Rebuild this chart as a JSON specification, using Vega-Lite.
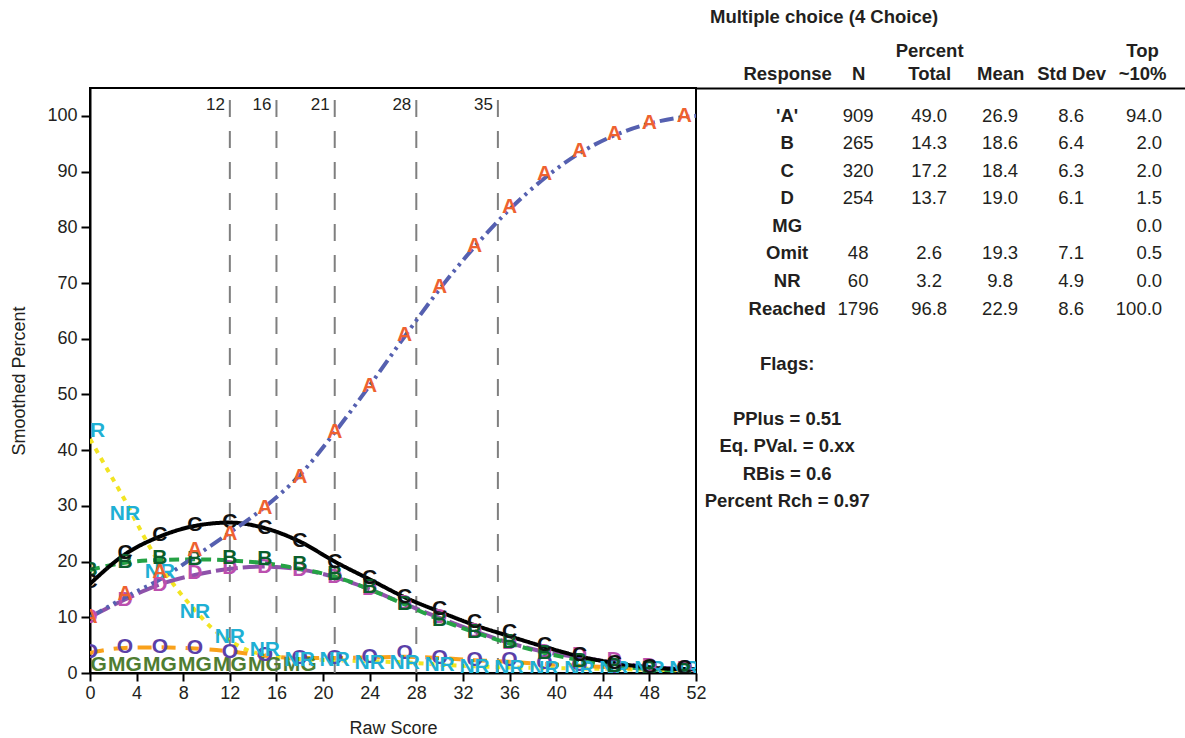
{
  "$schema": "https://vega.github.io/schema/vega-lite/v6.json",
  "background": "white",
  "padding": {"left": 9, "top": 7, "right": 0, "bottom": 0},
  "autosize": {"type": "pad"},
  "bounds": "flush",
  "spacing": 0,
  "config": {
    "font": "Liberation Sans",
    "view": {"stroke": "#000000", "strokeWidth": 2},
    "axis": {"domainColor": "#000000", "domainWidth": 2, "tickColor": "#000000", "tickWidth": 2, "labelColor": "#231f20", "titleColor": "#231f20", "grid": false},
    "title": {"font": "Liberation Sans"}
  },
  "datasets": {
    "cuts": [
      {"score": 12, "label": "12"}, {"score": 16, "label": "16"}, {"score": 21, "label": "21"}, {"score": 28, "label": "28"}, {"score": 35, "label": "35"}
    ],
    "curves": [
      {"series": "NR", "score": 0, "value": 42}, {"series": "NR", "score": 1.5, "value": 36.5}, {"series": "NR", "score": 3, "value": 31}, {"series": "NR", "score": 4.5, "value": 25}, {"series": "NR", "score": 6, "value": 19.5}, {"series": "NR", "score": 7.5, "value": 15}, {"series": "NR", "score": 9, "value": 11.3}, {"series": "NR", "score": 10.5, "value": 8}, {"series": "NR", "score": 12, "value": 5.8}, {"series": "NR", "score": 13.5, "value": 4.1}, {"series": "NR", "score": 15, "value": 3.3}, {"series": "NR", "score": 18, "value": 2.5}, {"series": "NR", "score": 21, "value": 2.3}, {"series": "NR", "score": 24, "value": 2.1}, {"series": "NR", "score": 27, "value": 1.9}, {"series": "NR", "score": 30, "value": 1.5}, {"series": "NR", "score": 33, "value": 1.2}, {"series": "NR", "score": 36, "value": 1.0}, {"series": "NR", "score": 39, "value": 0.9}, {"series": "NR", "score": 42, "value": 0.8}, {"series": "NR", "score": 45, "value": 0.7}, {"series": "NR", "score": 48, "value": 0.6}, {"series": "NR", "score": 51, "value": 0.5}, {"series": "NR", "score": 52, "value": 0.5},
      {"series": "O", "score": 0, "value": 3.6}, {"series": "O", "score": 3, "value": 4.5}, {"series": "O", "score": 6, "value": 4.6}, {"series": "O", "score": 9, "value": 4.4}, {"series": "O", "score": 12, "value": 3.9}, {"series": "O", "score": 15, "value": 3.1}, {"series": "O", "score": 18, "value": 2.7}, {"series": "O", "score": 21, "value": 2.7}, {"series": "O", "score": 24, "value": 2.8}, {"series": "O", "score": 27, "value": 2.9}, {"series": "O", "score": 30, "value": 2.7}, {"series": "O", "score": 33, "value": 2.3}, {"series": "O", "score": 36, "value": 2.0}, {"series": "O", "score": 39, "value": 1.6}, {"series": "O", "score": 42, "value": 1.3}, {"series": "O", "score": 45, "value": 1.0}, {"series": "O", "score": 48, "value": 0.8}, {"series": "O", "score": 51, "value": 0.6}, {"series": "O", "score": 52, "value": 0.6},
      {"series": "D", "score": 0, "value": 10}, {"series": "D", "score": 3, "value": 13.2}, {"series": "D", "score": 6, "value": 15.9}, {"series": "D", "score": 9, "value": 17.6}, {"series": "D", "score": 12, "value": 18.7}, {"series": "D", "score": 15, "value": 19.1}, {"series": "D", "score": 18, "value": 18.6}, {"series": "D", "score": 21, "value": 17.2}, {"series": "D", "score": 24, "value": 15}, {"series": "D", "score": 27, "value": 12.4}, {"series": "D", "score": 30, "value": 9.9}, {"series": "D", "score": 33, "value": 7.5}, {"series": "D", "score": 36, "value": 5.4}, {"series": "D", "score": 39, "value": 3.8}, {"series": "D", "score": 42, "value": 2.8}, {"series": "D", "score": 45, "value": 1.9}, {"series": "D", "score": 48, "value": 1.1}, {"series": "D", "score": 51, "value": 0.7}, {"series": "D", "score": 52, "value": 0.6},
      {"series": "B", "score": 0, "value": 18.5}, {"series": "B", "score": 3, "value": 19.8}, {"series": "B", "score": 6, "value": 20.3}, {"series": "B", "score": 9, "value": 20.4}, {"series": "B", "score": 12, "value": 20.2}, {"series": "B", "score": 15, "value": 19.7}, {"series": "B", "score": 18, "value": 18.7}, {"series": "B", "score": 21, "value": 17.3}, {"series": "B", "score": 24, "value": 15}, {"series": "B", "score": 27, "value": 12.3}, {"series": "B", "score": 30, "value": 9.6}, {"series": "B", "score": 33, "value": 7.3}, {"series": "B", "score": 36, "value": 5.3}, {"series": "B", "score": 39, "value": 3.6}, {"series": "B", "score": 42, "value": 2.3}, {"series": "B", "score": 45, "value": 1.3}, {"series": "B", "score": 48, "value": 0.7}, {"series": "B", "score": 51, "value": 0.4}, {"series": "B", "score": 52, "value": 0.4},
      {"series": "C", "score": 0, "value": 16}, {"series": "C", "score": 3, "value": 21.3}, {"series": "C", "score": 6, "value": 24.5}, {"series": "C", "score": 9, "value": 26.4}, {"series": "C", "score": 12, "value": 27}, {"series": "C", "score": 15, "value": 26}, {"series": "C", "score": 18, "value": 23.6}, {"series": "C", "score": 21, "value": 20}, {"series": "C", "score": 24, "value": 16.8}, {"series": "C", "score": 27, "value": 13.6}, {"series": "C", "score": 30, "value": 11}, {"series": "C", "score": 33, "value": 8.6}, {"series": "C", "score": 36, "value": 6.6}, {"series": "C", "score": 39, "value": 4.7}, {"series": "C", "score": 42, "value": 3}, {"series": "C", "score": 45, "value": 1.8}, {"series": "C", "score": 48, "value": 1}, {"series": "C", "score": 51, "value": 0.7}, {"series": "C", "score": 52, "value": 0.7},
      {"series": "A", "score": 0, "value": 10}, {"series": "A", "score": 3, "value": 13.6}, {"series": "A", "score": 6, "value": 16.8}, {"series": "A", "score": 9, "value": 20.9}, {"series": "A", "score": 12, "value": 25.2}, {"series": "A", "score": 15, "value": 29.8}, {"series": "A", "score": 18, "value": 35.5}, {"series": "A", "score": 21, "value": 43.2}, {"series": "A", "score": 24, "value": 51.6}, {"series": "A", "score": 27, "value": 60.4}, {"series": "A", "score": 30, "value": 68.9}, {"series": "A", "score": 33, "value": 76.5}, {"series": "A", "score": 36, "value": 83.2}, {"series": "A", "score": 39, "value": 88.8}, {"series": "A", "score": 42, "value": 93.3}, {"series": "A", "score": 45, "value": 96.5}, {"series": "A", "score": 48, "value": 98.6}, {"series": "A", "score": 51, "value": 99.8}, {"series": "A", "score": 52, "value": 100}
    ],
    "markers": [
      {"series": "MG", "score": 0, "value": 1.4}, {"series": "MG", "score": 3, "value": 1.4}, {"series": "MG", "score": 6, "value": 1.4}, {"series": "MG", "score": 9, "value": 1.4}, {"series": "MG", "score": 12, "value": 1.4}, {"series": "MG", "score": 15, "value": 1.4}, {"series": "MG", "score": 18, "value": 1.4},
      {"series": "O", "score": 0, "value": 3.8}, {"series": "O", "score": 3, "value": 4.7}, {"series": "O", "score": 6, "value": 4.7}, {"series": "O", "score": 9, "value": 4.5}, {"series": "O", "score": 12, "value": 3.8}, {"series": "O", "score": 15, "value": 3.2}, {"series": "O", "score": 18, "value": 2.7}, {"series": "O", "score": 21, "value": 2.7}, {"series": "O", "score": 24, "value": 2.9}, {"series": "O", "score": 27, "value": 3.6}, {"series": "O", "score": 30, "value": 2.7}, {"series": "O", "score": 33, "value": 2.3}, {"series": "O", "score": 36, "value": 2.3}, {"series": "O", "score": 39, "value": 1.8}, {"series": "O", "score": 42, "value": 1.4}, {"series": "O", "score": 45, "value": 1.1}, {"series": "O", "score": 48, "value": 1.1}, {"series": "O", "score": 51, "value": 0.9},
      {"series": "NR", "score": 0, "value": 43.5}, {"series": "NR", "score": 3, "value": 28.6}, {"series": "NR", "score": 6, "value": 18.1}, {"series": "NR", "score": 9, "value": 10.9}, {"series": "NR", "score": 12, "value": 6.5}, {"series": "NR", "score": 15, "value": 4.1}, {"series": "NR", "score": 18, "value": 2.3}, {"series": "NR", "score": 21, "value": 2.3}, {"series": "NR", "score": 24, "value": 1.8}, {"series": "NR", "score": 27, "value": 1.8}, {"series": "NR", "score": 30, "value": 1.4}, {"series": "NR", "score": 33, "value": 1.1}, {"series": "NR", "score": 36, "value": 0.9}, {"series": "NR", "score": 39, "value": 0.8}, {"series": "NR", "score": 42, "value": 0.8}, {"series": "NR", "score": 45, "value": 0.8}, {"series": "NR", "score": 48, "value": 0.8}, {"series": "NR", "score": 51, "value": 0.8},
      {"series": "D", "score": 0, "value": 10}, {"series": "D", "score": 3, "value": 13.1}, {"series": "D", "score": 6, "value": 15.8}, {"series": "D", "score": 9, "value": 17.9}, {"series": "D", "score": 12, "value": 18.8}, {"series": "D", "score": 15, "value": 19}, {"series": "D", "score": 18, "value": 18.5}, {"series": "D", "score": 21, "value": 17.2}, {"series": "D", "score": 24, "value": 15}, {"series": "D", "score": 27, "value": 12.5}, {"series": "D", "score": 30, "value": 10}, {"series": "D", "score": 33, "value": 7.5}, {"series": "D", "score": 36, "value": 5.4}, {"series": "D", "score": 39, "value": 3.8}, {"series": "D", "score": 42, "value": 3.2}, {"series": "D", "score": 45, "value": 2.3}, {"series": "D", "score": 48, "value": 1.2}, {"series": "D", "score": 51, "value": 0.8},
      {"series": "B", "score": 0, "value": 18.5}, {"series": "B", "score": 3, "value": 19.9}, {"series": "B", "score": 6, "value": 20.6}, {"series": "B", "score": 9, "value": 20.5}, {"series": "B", "score": 12, "value": 20.7}, {"series": "B", "score": 15, "value": 20.4}, {"series": "B", "score": 18, "value": 19.5}, {"series": "B", "score": 21, "value": 17.8}, {"series": "B", "score": 24, "value": 15.4}, {"series": "B", "score": 27, "value": 12.4}, {"series": "B", "score": 30, "value": 9.6}, {"series": "B", "score": 33, "value": 7.4}, {"series": "B", "score": 36, "value": 5.5}, {"series": "B", "score": 39, "value": 3.6}, {"series": "B", "score": 42, "value": 2.2}, {"series": "B", "score": 45, "value": 1.2}, {"series": "B", "score": 48, "value": 0.7}, {"series": "B", "score": 51, "value": 0.4},
      {"series": "C", "score": 0, "value": 16.3}, {"series": "C", "score": 3, "value": 21.5}, {"series": "C", "score": 6, "value": 24.7}, {"series": "C", "score": 9, "value": 26.5}, {"series": "C", "score": 12, "value": 27.1}, {"series": "C", "score": 15, "value": 26}, {"series": "C", "score": 18, "value": 23.7}, {"series": "C", "score": 21, "value": 19.9}, {"series": "C", "score": 24, "value": 17}, {"series": "C", "score": 27, "value": 13.6}, {"series": "C", "score": 30, "value": 11.5}, {"series": "C", "score": 33, "value": 9.1}, {"series": "C", "score": 36, "value": 7.3}, {"series": "C", "score": 39, "value": 5}, {"series": "C", "score": 42, "value": 3.2}, {"series": "C", "score": 45, "value": 1.8}, {"series": "C", "score": 48, "value": 1.1}, {"series": "C", "score": 51, "value": 0.9},
      {"series": "A", "score": 0, "value": 10}, {"series": "A", "score": 3, "value": 14.2}, {"series": "A", "score": 6, "value": 18.1}, {"series": "A", "score": 9, "value": 22}, {"series": "A", "score": 12, "value": 25}, {"series": "A", "score": 15, "value": 29.6}, {"series": "A", "score": 18, "value": 35.1}, {"series": "A", "score": 21, "value": 43.2}, {"series": "A", "score": 24, "value": 51.6}, {"series": "A", "score": 27, "value": 60.6}, {"series": "A", "score": 30, "value": 69.2}, {"series": "A", "score": 33, "value": 76.7}, {"series": "A", "score": 36, "value": 83.7}, {"series": "A", "score": 39, "value": 89.6}, {"series": "A", "score": 42, "value": 93.7}, {"series": "A", "score": 45, "value": 96.8}, {"series": "A", "score": 48, "value": 98.7}, {"series": "A", "score": 51, "value": 100}
    ],
    "table": [
      {"row": "A", "col": "Response", "text": "'A'"}, {"row": "A", "col": "N", "text": "909"}, {"row": "A", "col": "Percent Total", "text": "49.0"}, {"row": "A", "col": "Mean", "text": "26.9"}, {"row": "A", "col": "Std Dev", "text": "8.6"}, {"row": "A", "col": "Top ~10%", "text": "94.0"},
      {"row": "B", "col": "Response", "text": "B"}, {"row": "B", "col": "N", "text": "265"}, {"row": "B", "col": "Percent Total", "text": "14.3"}, {"row": "B", "col": "Mean", "text": "18.6"}, {"row": "B", "col": "Std Dev", "text": "6.4"}, {"row": "B", "col": "Top ~10%", "text": "2.0"},
      {"row": "C", "col": "Response", "text": "C"}, {"row": "C", "col": "N", "text": "320"}, {"row": "C", "col": "Percent Total", "text": "17.2"}, {"row": "C", "col": "Mean", "text": "18.4"}, {"row": "C", "col": "Std Dev", "text": "6.3"}, {"row": "C", "col": "Top ~10%", "text": "2.0"},
      {"row": "D", "col": "Response", "text": "D"}, {"row": "D", "col": "N", "text": "254"}, {"row": "D", "col": "Percent Total", "text": "13.7"}, {"row": "D", "col": "Mean", "text": "19.0"}, {"row": "D", "col": "Std Dev", "text": "6.1"}, {"row": "D", "col": "Top ~10%", "text": "1.5"},
      {"row": "MG", "col": "Response", "text": "MG"}, {"row": "MG", "col": "Top ~10%", "text": "0.0"},
      {"row": "Omit", "col": "Response", "text": "Omit"}, {"row": "Omit", "col": "N", "text": "48"}, {"row": "Omit", "col": "Percent Total", "text": "2.6"}, {"row": "Omit", "col": "Mean", "text": "19.3"}, {"row": "Omit", "col": "Std Dev", "text": "7.1"}, {"row": "Omit", "col": "Top ~10%", "text": "0.5"},
      {"row": "NR", "col": "Response", "text": "NR"}, {"row": "NR", "col": "N", "text": "60"}, {"row": "NR", "col": "Percent Total", "text": "3.2"}, {"row": "NR", "col": "Mean", "text": "9.8"}, {"row": "NR", "col": "Std Dev", "text": "4.9"}, {"row": "NR", "col": "Top ~10%", "text": "0.0"},
      {"row": "Reached", "col": "Response", "text": "Reached"}, {"row": "Reached", "col": "N", "text": "1796"}, {"row": "Reached", "col": "Percent Total", "text": "96.8"}, {"row": "Reached", "col": "Mean", "text": "22.9"}, {"row": "Reached", "col": "Std Dev", "text": "8.6"}, {"row": "Reached", "col": "Top ~10%", "text": "100.0"},
      {"row": "Flags", "col": "Response", "text": "Flags:"},
      {"row": "PPlus", "col": "Response", "text": "PPlus = 0.51"},
      {"row": "EqPVal", "col": "Response", "text": "Eq. PVal. = 0.xx"},
      {"row": "RBis", "col": "Response", "text": "RBis = 0.6"},
      {"row": "PctRch", "col": "Response", "text": "Percent Rch = 0.97"}
    ]
  },
  "hconcat": [
    {
      "width": 606,
      "height": 585,
      "layer": [
        {
          "data": {"name": "cuts"},
          "mark": {"type": "rule", "color": "#7f7f7f", "strokeWidth": 2, "strokeDash": [17, 14], "strokeDashOffset": 19},
          "encoding": {
            "x": {"field": "score", "type": "quantitative", "scale": {"domain": [0, 52], "nice": false, "zero": false},
              "axis": {"values": [0, 4, 8, 12, 16, 20, 24, 28, 32, 36, 40, 44, 48, 52], "tickSize": 8, "labelFontSize": 18, "labelPadding": 3, "labelFlush": false, "title": "Raw Score", "titleFontSize": 18, "titleFontWeight": "normal", "titlePadding": 17}}
          }
        },
        {
          "data": {"name": "cuts"},
          "mark": {"type": "text", "align": "right", "baseline": "middle", "dx": -5, "fontSize": 17, "color": "#231f20"},
          "encoding": {
            "x": {"field": "score", "type": "quantitative"},
            "y": {"datum": 102, "type": "quantitative"},
            "text": {"field": "label"}
          }
        },
        {
          "data": {"name": "curves"},
          "mark": {"type": "line", "interpolate": "monotone", "strokeWidth": 4, "clip": true},
          "encoding": {
            "x": {"field": "score", "type": "quantitative"},
            "y": {"field": "value", "type": "quantitative", "scale": {"domain": [0, 105], "nice": false},
              "axis": {"values": [0, 10, 20, 30, 40, 50, 60, 70, 80, 90, 100], "tickSize": 9, "labelFontSize": 18, "labelPadding": 4, "title": "Smoothed Percent", "titleFontSize": 18, "titleFontWeight": "normal", "titlePadding": 18}},
            "stroke": {"field": "series", "type": "nominal", "legend": null,
              "scale": {"domain": ["A", "B", "C", "D", "O", "NR"], "range": ["#5560b0", "#25a245", "#000000", "#8e52aa", "#f9a11b", "#f2e422"]}},
            "strokeDash": {"field": "series", "type": "nominal", "legend": null,
              "scale": {"domain": ["A", "B", "C", "D", "O", "NR"], "range": [[14, 5, 3, 5, 3, 5], [10, 6], [1, 0], [22, 5], [14, 10], [5, 6]]}}
          }
        },
        {
          "data": {"name": "markers"},
          "mark": {"type": "text", "fontSize": 21, "fontWeight": "bold", "align": "center", "baseline": "middle", "clip": true},
          "encoding": {
            "x": {"field": "score", "type": "quantitative"},
            "y": {"field": "value", "type": "quantitative"},
            "text": {"field": "series"},
            "color": {"field": "series", "type": "nominal", "legend": null,
              "scale": {"domain": ["A", "B", "C", "D", "O", "NR", "MG"], "range": ["#ee6130", "#0b5e2c", "#111111", "#bb4fae", "#5b3fa8", "#1fb0d4", "#4f7d32"]}}
          }
        }
      ]
    },
    {
      "width": 489,
      "height": 441,
      "view": {"stroke": null},
      "title": {"text": "Multiple choice (4 Choice)", "anchor": "start", "fontSize": 18.5, "fontWeight": "bold", "color": "#231f20", "dx": 14, "offset": 15},
      "data": {"name": "table"},
      "layer": [
        {
          "transform": [{"filter": "datum.col == 'Response'"}],
          "mark": {"type": "text", "fontSize": 18.5, "fontWeight": "bold", "color": "#231f20", "align": "center", "baseline": "middle"},
          "encoding": {
            "x": {"field": "col", "type": "nominal",
              "scale": {"type": "point", "domain": ["Response", "N", "Percent Total", "Mean", "Std Dev", "Top ~10%"], "padding": 0.944, "align": 0.68},
              "axis": {"orient": "top", "title": null, "ticks": false, "labelAngle": 0, "labelFontSize": 18.5, "labelFontWeight": "bold", "labelPadding": 28, "labelLineHeight": 23, "labelOverlap": false, "labelBound": false, "labelFlush": false,
                "labelExpr": "datum.value == 'Percent Total' ? ['Percent', 'Total'] : datum.value == 'Top ~10%' ? ['Top', '~10%'] : ['', datum.label]"}},
            "y": {"field": "row", "type": "nominal",
              "scale": {"type": "point", "domain": ["A", "B", "C", "D", "MG", "Omit", "NR", "Reached", "s1", "Flags", "s2", "PPlus", "EqPVal", "RBis", "PctRch"], "padding": 1.018},
              "axis": null},
            "text": {"field": "text"}
          }
        },
        {
          "transform": [{"filter": "datum.col != 'Response' && datum.col != 'Top ~10%'"}],
          "mark": {"type": "text", "fontSize": 18.5, "color": "#231f20", "align": "center", "baseline": "middle"},
          "encoding": {
            "x": {"field": "col", "type": "nominal"},
            "y": {"field": "row", "type": "nominal"},
            "text": {"field": "text"}
          }
        },
        {
          "transform": [{"filter": "datum.col == 'Top ~10%'"}],
          "mark": {"type": "text", "fontSize": 18.5, "color": "#231f20", "align": "right", "baseline": "middle", "dx": 20},
          "encoding": {
            "x": {"field": "col", "type": "nominal"},
            "y": {"field": "row", "type": "nominal"},
            "text": {"field": "text"}
          }
        }
      ]
    }
  ]
}
